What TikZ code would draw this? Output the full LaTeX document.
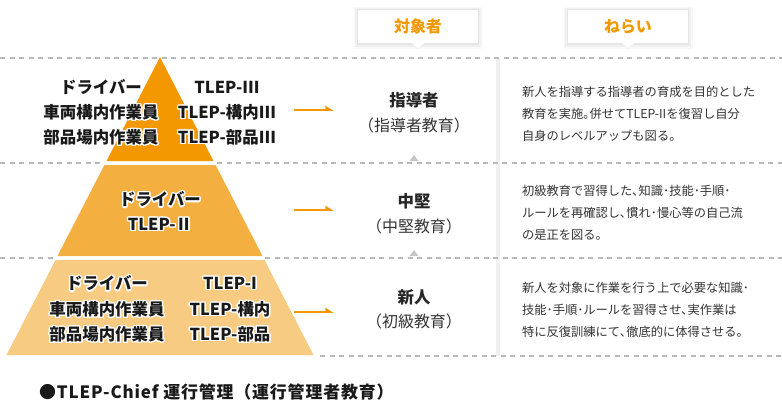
\documentclass[tikz,border=0pt]{standalone}
\usepackage{fontspec}
\setmainfont{Noto Sans CJK JP}
\usepackage[copies]{contour}
\contourlength{1.4pt}
\usetikzlibrary{arrows.meta,calc}
\definecolor{tlorange}{HTML}{F39800}
\definecolor{tiertop}{HTML}{F39800}
\definecolor{tiermid}{HTML}{F4AF41}
\definecolor{tierlow}{HTML}{F8CB82}
\tikzset{x=1bp,y=-1bp,every node/.style={inner sep=0pt},
  sep/.style={gray!55,line width=1.3bp,dash pattern=on 5bp off 4.5bp},
  headbox/.style={fill=white,minimum width=120bp,minimum height=33bp,text=tlorange,font=\fontsize{16}{16}\selectfont\bfseries,
    preaction={draw=black,draw opacity=.025,line width=9bp,transform canvas={yshift=-1bp}},
    preaction={draw=black,draw opacity=.035,line width=5.5bp,transform canvas={yshift=-1bp}},
    preaction={draw=black,draw opacity=.045,line width=2.5bp,transform canvas={yshift=-.5bp}}},
  tiertext/.style={font=\fontsize{16.5}{16.5}\selectfont\bfseries,text=black!90},
  target/.style={font=\fontsize{16.5}{16.5}\selectfont\bfseries,text=black!85},
  targetsub/.style={font=\fontsize{16}{16}\selectfont,text=black!80},
  aimtext/.style={anchor=west,align=left,font=\fontsize{12.3}{22}\selectfont,text=black!80},
  flow/.style={tlorange,line width=2bp,-{Triangle[harpoon,length=7bp,width=8bp]}},
  rise/.style={fill=gray!45}}
\newcommand{\halo}[1]{\contour{white}{#1}}

\begin{document}
\begin{tikzpicture}
\useasboundingbox (0,0) rectangle (782,401);
% separators
\draw[gray!12,line width=3.5bp] (498,58)--(498,356);
\draw[sep] (0,58)--(782,58);
\draw[sep] (0,163)--(103,163);\draw[sep] (217,163)--(782,163);
\draw[sep] (0,258)--(55,258);\draw[sep] (265,258)--(782,258);
\draw[sep] (320,356)--(782,356);
\fill[rise] (414,155)--(418.5,161)--(409.5,161)--cycle;
\fill[rise] (414,250)--(418.5,256)--(409.5,256)--cycle;
% headers
\node[headbox] (whohead) at (418,26.5){対象者};
\node[headbox] (goalhead) at (628,26.5){ねらい};
\foreach \h in {whohead,goalhead}{\fill[black!5] ($(\h.south)+(-6.5,0)$)--($(\h.south)+(6.5,0)$)--($(\h.south)+(0,6.2)$)--cycle;
  \fill[white] ($(\h.south)+(-6,-.5)$)--($(\h.south)+(6,-.5)$)--($(\h.south)+(0,5)$)--cycle;}
% pyramid
\fill[tiertop] (160,57)--(213.5,161)--(106.5,161)--cycle;
\fill[tiermid] (104.4,165)--(215.6,165)--(262.5,256)--(57.5,256)--cycle;
\fill[tierlow] (55.5,260)--(264.5,260)--(313.5,355)--(6.5,355)--cycle;
\node[tiertext] (drv3) at (101,88){\halo{ドライバー}};\node[tiertext] (tl3) at (227,88){\halo{TLEP-III}};
\node[tiertext] (car3) at (101,113){\halo{車両構内作業員}};\node[tiertext] (tlc3) at (227,113){\halo{TLEP-構内III}};
\node[tiertext] (prt3) at (101,138){\halo{部品場内作業員}};\node[tiertext] (tlp3) at (227,138){\halo{TLEP-部品III}};
\node[tiertext] (drv2) at (160,200){\halo{ドライバー}};\node[tiertext] (tl2) at (160,225){\halo{TLEP-Ⅱ}};
\node[tiertext] (drv1) at (107,284){\halo{ドライバー}};\node[tiertext] (tl1) at (230,284){\halo{TLEP-I}};
\node[tiertext] (car1) at (107,310){\halo{車両構内作業員}};\node[tiertext] (tlc1) at (230,310){\halo{TLEP-構内}};
\node[tiertext] (prt1) at (107,335){\halo{部品場内作業員}};\node[tiertext] (tlp1) at (230,335){\halo{TLEP-部品}};
% targets
\coordinate (fl3a) at (294,110);\coordinate (fl3b) at (334,110);\draw[flow] (fl3a)--(fl3b);
\coordinate (fl2a) at (294,210);\coordinate (fl2b) at (334,210);\draw[flow] (fl2a)--(fl2b);
\coordinate (fl1a) at (294,312);\coordinate (fl1b) at (334,312);\draw[flow] (fl1a)--(fl1b);
\node[target] (lead) at (414,100){指導者};\node[targetsub] (leadsub) at (414,125){（指導者教育）};
\node[target] (mid) at (414,201){中堅};\node[targetsub] (midsub) at (414,226){（中堅教育）};
\node[target] (new) at (414,297){新人};\node[targetsub] (newsub) at (414,321){（初級教育）};
% aims
\node[aimtext] (aim3) at (522,113.5){新人を指導する指導者の育成を目的とした\\教育を実施｡併せてTLEP-IIを復習し自分\\自身のレベルアップも図る。};
\node[aimtext] (aim2) at (522,213){初級教育で習得した､知識･技能･手順･\\ルールを再確認し､慣れ･慢心等の自己流\\の是正を図る。};
\node[aimtext] (aim1) at (522,310){新人を対象に作業を行う上で必要な知識･\\技能･手順･ルールを習得させ､実作業は\\特に反復訓練にて､徹底的に体得させる。};
\node[anchor=west,font=\fontsize{17}{17}\selectfont\bfseries\addfontfeatures{LetterSpace=5},text=black!90] (chief) at (39,392){●TLEP-Chief 運行管理（運行管理者教育）};
\end{tikzpicture}
\end{document}
